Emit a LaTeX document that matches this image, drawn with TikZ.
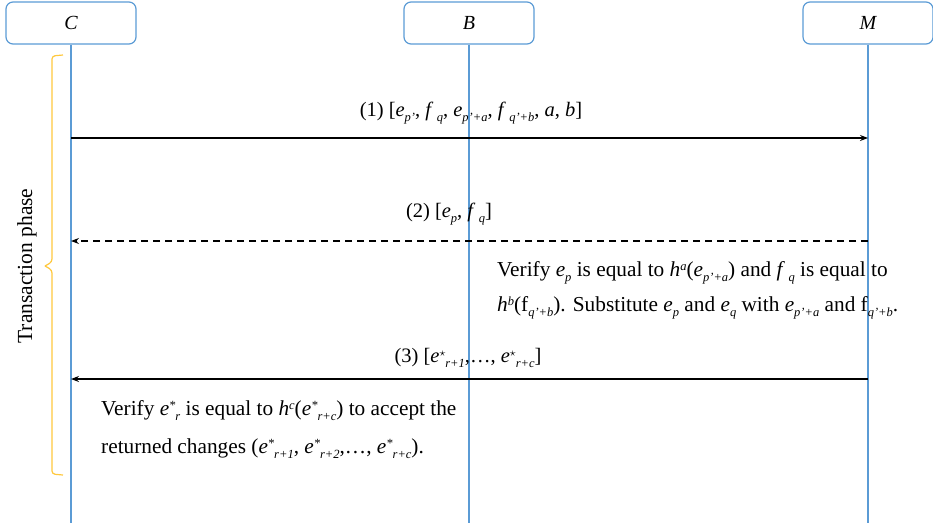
\documentclass[tikz,border=0pt]{standalone}
\usepackage{fontspec}
\setmainfont{Liberation Serif}
\usetikzlibrary{arrows.meta}
\definecolor{lifeblue}{HTML}{5B9BD5}
\definecolor{braceyellow}{HTML}{FFC83D}
\newcommand{\vv}[1]{\textit{#1}}
\newcommand{\sbx}[1]{\raisebox{-5pt}{\fontsize{12.5}{12}\selectfont\itshape #1}}
\newcommand{\spx}[1]{\raisebox{6pt}{\fontsize{12.5}{12}\selectfont\itshape #1}}
\begin{document}
\begin{tikzpicture}[x=1pt,y=-1pt,
  actor/.style={draw=lifeblue,line width=1.2pt,rounded corners=7pt,minimum width=130pt,minimum height=42pt,inner sep=0pt,font=\fontsize{20}{22}\selectfont\itshape},
  life/.style={draw=lifeblue,line width=1.3pt},
  msg/.style={draw=black,line width=1.1pt,-{Stealth[length=8pt,width=6pt]}},
  lbl/.style={font=\fontsize{20.5}{22}\selectfont,inner sep=0pt},
  note/.style={font=\fontsize{21.3}{35}\selectfont,inner sep=0pt,align=left,anchor=north west}]
\useasboundingbox (0,0) rectangle (933,523);
\node[actor] (C) at (71,23) {C};
\node[actor] (B) at (469,23) {B};
\node[actor] (M) at (868,23) {M};
\coordinate (Cb) at (71,523);
\coordinate (Bb) at (469,523);
\coordinate (Mb) at (868,523);
\draw[life] (C.south) -- (Cb);
\draw[life] (B.south) -- (Bb);
\draw[life] (M.south) -- (Mb);
% messages
\coordinate (c1) at (71,138); \coordinate (m1) at (868,138);
\coordinate (c2) at (71,241); \coordinate (m2) at (868,241);
\coordinate (c3) at (71,379); \coordinate (m3) at (868,379);
\draw[msg] (c1) -- (m1);
\draw[msg,dashed,dash pattern=on 7pt off 5pt] (m2) -- (c2);
\draw[msg] (m3) -- (c3);
\node[lbl] (l1) at (471,113) {(1) [\vv{e}\sbx{p'}, \vv{f}\,\sbx{q}, \vv{e}\sbx{p'+a}, \vv{f}\,\sbx{q'+b}, \vv{a}, \vv{b}]};
\node[lbl] (l2) at (449,214) {(2) [\vv{e}\sbx{p}, \vv{f}\,\sbx{q}]};
\node[lbl] (l3) at (468,358) {(3) [\vv{e}\spx{$\star$}\sbx{r+1},\ldots, \vv{e}\spx{$\star$}\sbx{r+c}]};
\node[note] (n1) at (497,261) {Verify \vv{e}\sbx{p} is equal to \vv{h}\spx{a}(\vv{e}\sbx{p'+a}) and \vv{f}\,\sbx{q} is equal to\\
\vv{h}\spx{b}(f\sbx{q'+b}). Substitute \vv{e}\sbx{p} and \vv{e}\sbx{q} with \vv{e}\sbx{p'+a} and f\sbx{q'+b}.};
\node[note,font=\fontsize{21.3}{38}\selectfont] (n2) at (101,400) {Verify \vv{e}\spx{*}\sbx{r} is equal to \vv{h}\spx{c}(\vv{e}\spx{*}\sbx{r+c}) to accept the\\
returned changes (\vv{e}\spx{*}\sbx{r+1}, \vv{e}\spx{*}\sbx{r+2},\ldots, \vv{e}\spx{*}\sbx{r+c}).};
% brace
\draw[braceyellow,line width=1.2pt,rounded corners=3pt] (63,55) -- (52,56) -- (52,262) -- (45,266);
\draw[braceyellow,line width=1.2pt,rounded corners=3pt] (45,266) -- (52,270) -- (52,474) -- (63,475);
\node[lbl,rotate=90,font=\fontsize{21.5}{22}\selectfont] (tp) at (27,266) {Transaction phase};
\end{tikzpicture}
\end{document}
